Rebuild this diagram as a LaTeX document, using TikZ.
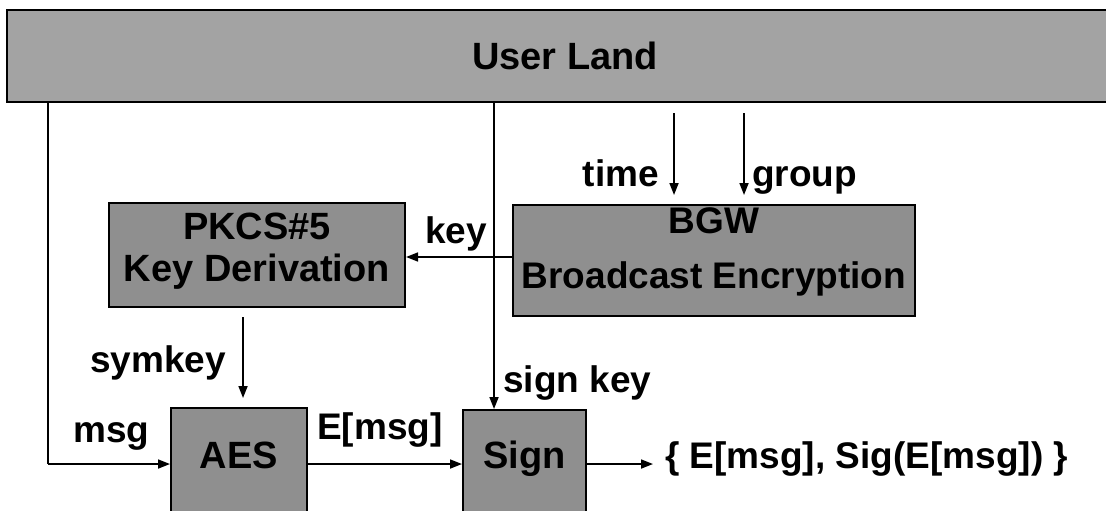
\documentclass[tikz,border=0pt]{standalone}
\usepackage{fontspec}
\setmainfont{Liberation Sans}
\usetikzlibrary{arrows.meta}
\definecolor{ulgray}{gray}{0.64}
\definecolor{boxgray}{gray}{0.56}
\tikzset{
  box/.style={draw=black, line width=2pt, fill=boxgray, inner sep=0pt, align=center,
    font=\fontsize{38}{42}\selectfont\bfseries},
  lbl/.style={inner sep=0pt, font=\fontsize{37}{40}\selectfont\bfseries},
  arr/.style={line width=1.7pt, -{Triangle[length=12pt,width=9pt]}},
  ln/.style={line width=1.7pt}
}
\begin{document}
\begin{tikzpicture}[x=1pt,y=-1pt]
\useasboundingbox (0,0) rectangle (1106,511);
% boxes
\node[box, fill=ulgray, minimum width=1116pt, minimum height=92pt] (user) at (565,56) {User Land};
\node[box, minimum width=296pt, minimum height=104pt, text depth=15pt] (pkcs) at (257,255) {PKCS\#5\\Key Derivation};
\node[box, minimum width=402pt, minimum height=111pt, text depth=25pt,
  font=\fontsize{37}{55}\selectfont\bfseries] (bgw) at (714,260.5) {BGW\\Broadcast Encryption};
\node[box, minimum width=136pt, minimum height=106pt, text depth=12pt] (aes) at (239,461) {AES};
\node[box, minimum width=123pt, minimum height=102pt, text depth=12pt] (sign) at (524.5,461) {Sign};
\node[lbl, anchor=base west] (out) at (665,468) {\{ E[msg], Sig(E[msg]) \}};
% coordinates
\coordinate (mcorner) at (48,464);
\coordinate (skx) at (494,0);
\coordinate (keyy) at (0,257);
\coordinate (timetop) at (674,113);
\coordinate (timetip) at (674,195);
\coordinate (grouptop) at (744,113);
\coordinate (grouptip) at (744,195);
\coordinate (symtop) at (243,317);
\coordinate (symtip) at (243,398);
\coordinate (outtip) at (653,464);
% connectors
\draw[ln] (mcorner |- user.south) -- (mcorner);
\draw[arr] (mcorner) -- (aes.west |- mcorner);
\draw[arr] (skx |- user.south) -- (skx |- sign.north);
\draw[arr] (timetop) -- (timetip);
\draw[arr] (grouptop) -- (grouptip);
\draw[arr] (bgw.west |- keyy) -- (pkcs.east |- keyy);
\draw[arr] (symtop) -- (symtip);
\draw[arr] (aes.east |- mcorner) -- (sign.west |- mcorner);
\draw[arr] (sign.east |- outtip) -- (outtip);
% labels
\node[lbl, anchor=base east] (ltime) at (659,186) {time};
\node[lbl, anchor=base west] (lgroup) at (752,186) {group};
\node[lbl, anchor=base west] (lkey) at (425,243) {key};
\node[lbl, anchor=base west] (lsym) at (90,372) {symkey};
\node[lbl, anchor=base west] (lsign) at (503,392) {sign key};
\node[lbl, anchor=base west] (lmsg) at (73,442) {msg};
\node[lbl, anchor=base west] (lemsg) at (317,439) {E[msg]};
\end{tikzpicture}
\end{document}
